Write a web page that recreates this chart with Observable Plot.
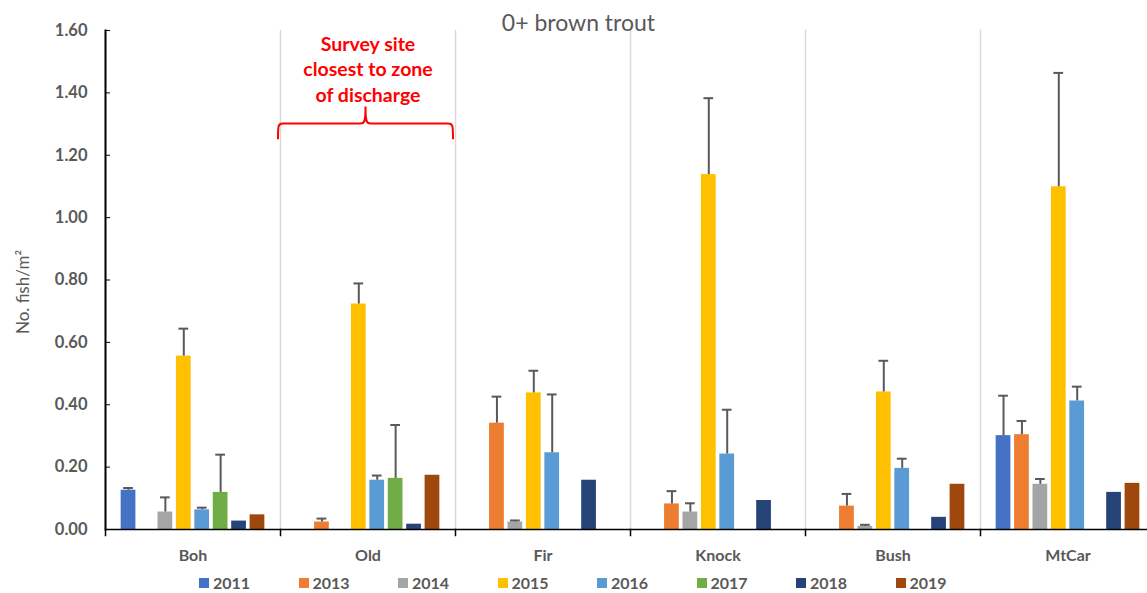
<!DOCTYPE html>
<html><head><meta charset="utf-8">
<script src="https://cdn.jsdelivr.net/npm/d3@7"></script>
<script src="https://cdn.jsdelivr.net/npm/@observablehq/plot@0.6"></script>
<style>
html,body{margin:0;padding:0;background:#fff;}
#wrap{position:relative;width:1147px;height:593px;font-family:Lato,"Open Sans",sans-serif;}
#title{position:absolute;left:0;width:1157px;top:8px;text-align:center;font-size:23px;color:#595959;line-height:28px;white-space:nowrap;}
#legend{position:absolute;top:575px;left:199px;display:flex;height:16px;align-items:center;}
.item{width:99.5px;display:flex;align-items:center;font-weight:bold;font-size:16px;line-height:16px;color:#595959;}
.sw{width:10px;height:10px;margin-right:4px;display:inline-block;}
</style></head><body>
<div id="wrap"><div id="chart"></div><div id="title"></div><div id="legend"></div></div>
<script>
const sites = ["Boh", "Old", "Fir", "Knock", "Bush", "MtCar"];
const years = ["2011", "2013", "2014", "2015", "2016", "2017", "2018", "2019"];
const yearColors = ["#4472C4", "#ED7D31", "#A5A5A5", "#FFC000", "#5B9BD5", "#70AD47", "#264478", "#9E480E"];
const yTicks = [0, 0.2, 0.4, 0.6, 0.8, 1.0, 1.2, 1.4, 1.6];
const title = "0+ brown trout";
const yLabel = "No. fish/m²";
const note = "Survey site\nclosest to zone\nof discharge";

// mean density per site, in year order (null = not surveyed)
const bohValues   = [0.126, null, 0.056, 0.556, 0.063, 0.119, 0.027, 0.047];
const oldValues   = [null, 0.024, null, 0.723, 0.158, 0.164, 0.017, 0.174];
const firValues   = [null, 0.341, 0.024, 0.438, 0.246, null, 0.158, null];
const knockValues = [null, 0.082, 0.056, 1.138, 0.242, null, 0.093, null];
const bushValues  = [null, 0.075, 0.010, 0.441, 0.196, null, 0.039, 0.145];
const mtcarValues = [0.301, 0.304, 0.145, 1.099, 0.412, null, 0.119, 0.148];

// upper error (standard error) per site, in year order
const bohErrors   = [0.007, null, 0.047, 0.088, 0.007, 0.121, null, null];
const oldErrors   = [null, 0.011, null, 0.066, 0.015, 0.171, null, null];
const firErrors   = [null, 0.085, 0.005, 0.071, 0.187, null, null, null];
const knockErrors = [null, 0.041, 0.028, 0.245, 0.142, null, null, null];
const bushErrors  = [null, 0.039, 0.005, 0.100, 0.031, null, null, null];
const mtcarErrors = [0.128, 0.044, 0.017, 0.365, 0.046, null, null, null];

const valueLists = [bohValues, oldValues, firValues, knockValues, bushValues, mtcarValues];
const errorLists = [bohErrors, oldErrors, firErrors, knockErrors, bushErrors, mtcarErrors];

const rows = [];
sites.forEach((site, i) => {
  years.forEach((year, j) => {
    const v = valueLists[i][j];
    if (v != null) rows.push({site, year, value: v, err: errorLists[i][j]});
  });
});
const errRows = rows.filter(d => d.err != null);

const grey = "#595959";

const chart = Plot.plot({
  width: 1147, height: 577,
  marginTop: 30, marginBottom: 48, marginLeft: 104, marginRight: -9,
  style: {fontFamily: "Lato, 'Open Sans', sans-serif", background: "#fff"},
  fx: {domain: sites, padding: 0, label: null},
  x: {domain: years, paddingInner: 0.2, paddingOuter: 0.85, round: false, axis: null},
  y: {domain: [0, 1.6]},
  color: {domain: years, range: yearColors},
  marks: [
    Plot.frame({anchor: "left", stroke: "#d9d9d9", strokeWidth: 1.5}),
    Plot.barY(rows, {fx: "site", x: "year", y: "value", fill: "year"}),
    Plot.ruleX(errRows, {fx: "site", x: "year", y1: "value", y2: d => d.value + d.err, stroke: grey, strokeWidth: 2}),
    Plot.tickY(errRows, {fx: "site", x: "year", y: d => d.value + d.err, stroke: grey, strokeWidth: 2, insetLeft: 2.5, insetRight: 2.5}),
    Plot.ruleY([0], {stroke: "#000", strokeWidth: 1.5}),
    Plot.frame({anchor: "left", stroke: "#000", strokeWidth: 1.5, insetTop: 499, insetBottom: -6}),
    Plot.frame({anchor: "left", stroke: "#000", strokeWidth: 2, fx: () => "Boh"}),
    Plot.axisY({ticks: yTicks, tickSize: -5, tickPadding: 23, tickFormat: d3.format(".2f"),
      fontSize: 16.5, fontWeight: "bold", fill: grey, stroke: "#000", label: null}),
    Plot.text([yLabel], {fx: () => "Boh", text: d => d, frameAnchor: "left", rotate: -90,
      textAnchor: "middle", lineAnchor: "middle", dx: -82, dy: 12, fontSize: 17, fill: grey}),
    Plot.axisFx({anchor: "bottom", tickSize: 0, tickPadding: 20, fontSize: 16, fontWeight: "bold", fill: grey, label: null}),
    Plot.text([note], {fx: () => "Old", text: d => d, frameAnchor: "top", dy: 2, fontSize: 19.5,
      fontWeight: "bold", fill: "#FF0000", lineHeight: 1.31})
  ]
});

document.getElementById("chart").appendChild(chart);
document.getElementById("title").textContent = title;

// curly brace annotation over the "Old" site, placed with the chart's scales
const fxS = chart.scale("fx"), yS = chart.scale("y");
const L = fxS.apply("Old") - 2, R = L + fxS.bandwidth, M = (L + R) / 2;
const yEnd = yS.apply(1.25), yBar = yS.apply(1.30), yTip = yS.apply(1.355);
const r = 5;
d3.select(chart).append("path")
  .attr("fill", "none").attr("stroke", "#FF0000").attr("stroke-width", 2)
  .attr("d", `M${L},${yEnd} C${L},${yBar + 2} ${L},${yBar} ${L + r},${yBar} L${M - r},${yBar} C${M - 1},${yBar} ${M},${yBar - 2} ${M},${yTip} C${M},${yBar - 2} ${M + 1},${yBar} ${M + r},${yBar} L${R - r},${yBar} C${R},${yBar} ${R},${yBar + 2} ${R},${yEnd}`);

// legend
const legend = d3.select("#legend");
years.forEach((y, i) => {
  const item = legend.append("div").attr("class", "item");
  item.append("span").attr("class", "sw").style("background", yearColors[i]);
  item.append("span").text(y);
});
</script>
</body></html>
